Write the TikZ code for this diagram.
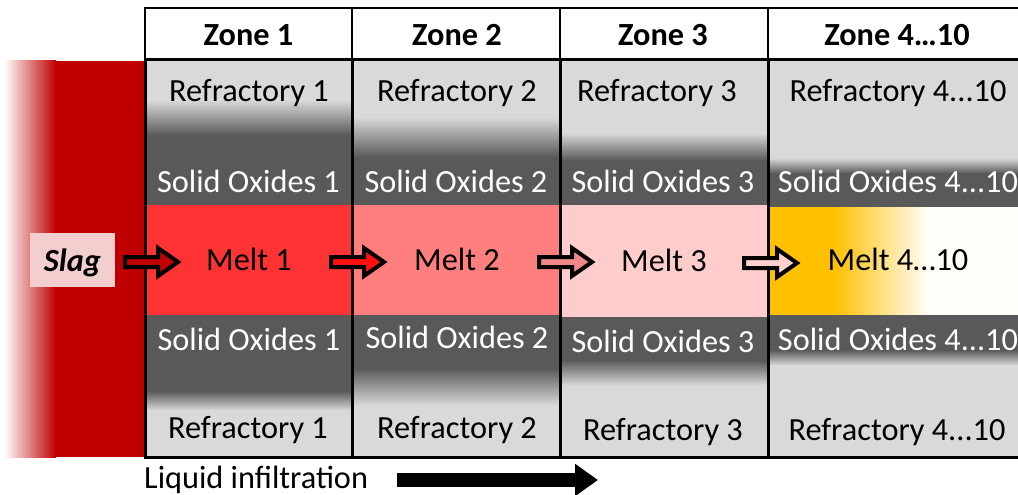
\documentclass[tikz,border=0pt]{standalone}
\usepackage{fontspec}
\setmainfont{Carlito}
\usetikzlibrary{arrows.meta,calc}
\definecolor{lg}{HTML}{D9D9D9}
\definecolor{dg}{HTML}{595959}
\definecolor{slagred}{HTML}{C00000}
\definecolor{slagbox}{HTML}{F2CECE}
\definecolor{meltA}{HTML}{FF3333}
\definecolor{meltB}{HTML}{FF7F7F}
\definecolor{meltC}{HTML}{FFCCCC}
\definecolor{meltD}{HTML}{FFC000}
\definecolor{meltE}{HTML}{FFFDF8}
\definecolor{arrA}{HTML}{C00000}
\definecolor{arrB}{HTML}{FF1010}
\definecolor{arrC}{HTML}{F08888}
\definecolor{arrD}{HTML}{FFD0D0}
\newcommand\blkarrow[2]{\filldraw[blockarr, fill=#1] (#2) ++(0,-5) -- ++(33,0) -- ++(0,-9) -- ++(20,14) -- ++(-20,14) -- ++(0,-9) -- ++(-33,0) -- cycle;}
\begin{document}
\begin{tikzpicture}[x=1pt,y=-1pt,
  lbl/.style={font=\fontsize{32.3}{37}\selectfont, inner sep=0pt, anchor=base},
  lblw/.style={lbl, text=white},
  hdr/.style={lbl, font=\fontsize{32.3}{37}\selectfont\bfseries},
  blockarr/.style={draw=black, line width=4pt, line join=miter},
  hdrbox/.style={draw=black, line width=1.5pt},
  border/.style={draw=black, line width=3pt},
]
\useasboundingbox (0,0) rectangle (1018,495);
\begin{scope}
\clip (0,0) rectangle (1018,495);
% slag band
\shade[left color=white, right color=slagred] (4,61) rectangle (56,457);
\fill[slagred] (55,61) rectangle (146,457);
% zone 1
\fill[lg] (145,60) rectangle (352,100.5);
\shade[top color=lg,bottom color=dg] (145,100) rectangle (352,135.5);
\fill[dg] (145,135) rectangle (352,205);
\fill[meltA] (145,205) rectangle (352,315);
\fill[dg] (145,315) rectangle (352,391.5);
\shade[top color=dg,bottom color=lg] (145,391) rectangle (352,410.5);
\fill[lg] (145,410) rectangle (352,457);
% zone 2
\fill[lg] (352,60) rectangle (560,117.5);
\shade[top color=lg,bottom color=dg] (352,117) rectangle (560,157.5);
\fill[dg] (352,157) rectangle (560,205);
\fill[meltB] (352,205) rectangle (560,315);
\fill[dg] (352,315) rectangle (560,368.5);
\shade[top color=dg,bottom color=lg] (352,368) rectangle (560,405.5);
\fill[lg] (352,405) rectangle (560,457);
% zone 3
\fill[lg] (560,60) rectangle (768,133.5);
\shade[top color=lg,bottom color=dg] (560,133) rectangle (768,160.5);
\fill[dg] (560,160) rectangle (768,205);
\fill[meltC] (560,205) rectangle (768,317);
\fill[dg] (560,317) rectangle (768,360.5);
\shade[top color=dg,bottom color=lg] (560,360) rectangle (768,385.5);
\fill[lg] (560,385) rectangle (768,457);
% zone 4
\fill[lg] (768,60) rectangle (1040,158.5);
\shade[top color=lg,bottom color=dg] (768,158) rectangle (1040,173.5);
\fill[dg] (768,173) rectangle (1040,207);
\fill[meltD] (768,207) rectangle (833.5,315);
\shade[left color=meltD,right color=meltE] (833,207) rectangle (927.5,315);
\fill[meltE] (927,207) rectangle (1040,315);
\fill[dg] (768,315) rectangle (1040,350.5);
\shade[top color=dg,bottom color=lg] (768,350) rectangle (1040,365.5);
\fill[lg] (768,365) rectangle (1040,456);
% borders
\draw[border] (145,60) rectangle (1045,457);
\draw[border] (352,60) -- (352,457);
\draw[border] (560,60) -- (560,457);
\draw[border] (768,60) -- (768,457);
\draw[hdrbox] (145,8) rectangle (352,60);
\draw[hdrbox] (352,8) rectangle (560,60);
\draw[hdrbox] (560,8) rectangle (768,60);
\draw[hdrbox] (768,8) rectangle (1045,60);
\end{scope}
% headers
\node[hdr] (h1) at (248.5,46) {Zone 1};
\node[hdr] (h2) at (457,46) {Zone 2};
\node[hdr] (h3) at (663,46) {Zone 3};
\node[hdr] (h4) at (897,46) {Zone 4…10};
% top refractory
\node[lbl] (rt1) at (249,102) {Refractory 1};
\node[lbl] (rt2) at (457,102) {Refractory 2};
\node[lbl] (rt3) at (657,102) {Refractory 3};
\node[lbl] (rt4) at (898,101) {Refractory 4...10};
% top solid oxides
\node[lblw] (st1) at (248.5,192) {Solid Oxides 1};
\node[lblw] (st2) at (456,192) {Solid Oxides 2};
\node[lblw] (st3) at (663,192) {Solid Oxides 3};
\node[lblw] (st4) at (898,192) {Solid Oxides 4...10};
% melts
\node[lbl] (m1) at (249,270) {Melt 1};
\node[lbl] (m2) at (457,270) {Melt 2};
\node[lbl] (m3) at (664,271) {Melt 3};
\node[lbl] (m4) at (898,270) {Melt 4…10};
% bottom solid oxides
\node[lblw] (sb1) at (249,350) {Solid Oxides 1};
\node[lblw] (sb2) at (457,348) {Solid Oxides 2};
\node[lblw] (sb3) at (663,352) {Solid Oxides 3};
\node[lblw] (sb4) at (898,350) {Solid Oxides 4...10};
% bottom refractory
\node[lbl] (rb1) at (248,438) {Refractory 1};
\node[lbl] (rb2) at (457,438) {Refractory 2};
\node[lbl] (rb3) at (663,440) {Refractory 3};
\node[lbl] (rb4) at (897,440) {Refractory 4...10};
% slag
\node[fill=slagbox, minimum width=85pt, minimum height=54pt, inner sep=0pt, text depth=0pt,
      font=\fontsize{32.3}{37}\selectfont\bfseries\itshape] (slag) at (72.5,260) {Slag};
% block arrows
\coordinate (a1) at (125,262);
\coordinate (a2) at (331,262);
\coordinate (a3) at (539,262);
\coordinate (a4) at (744,263);
\blkarrow{arrA}{a1}
\blkarrow{arrB}{a2}
\blkarrow{arrC}{a3}
\blkarrow{arrD}{a4}
% liquid infiltration
\node[lbl, anchor=base west] (liq) at (144,488) {Liquid infiltration};
\coordinate (la) at (397,480);
\coordinate (lb) at (598,480);
\draw[line width=14pt, -{Triangle[length=23pt,width=31pt]}] (la) -- (lb);
\end{tikzpicture}
\end{document}
